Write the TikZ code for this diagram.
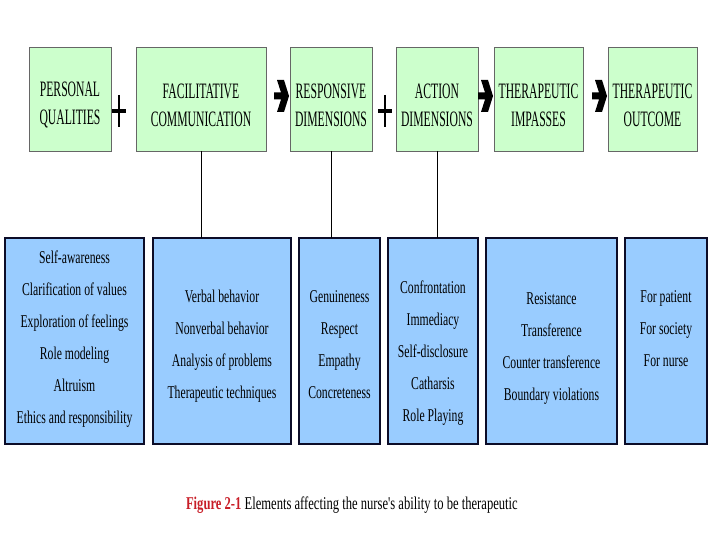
\documentclass[tikz,border=0pt]{standalone}
\usepackage{fontspec}
\setmainfont{Liberation Serif}
\newfontfamily\headfont[FakeStretch=0.53]{Liberation Serif}
\newfontfamily\itemfont[FakeStretch=0.65]{Liberation Serif}
\newfontfamily\captfont[FakeStretch=0.7]{Liberation Serif}
\usetikzlibrary{
  arrows.meta,
  positioning,
  calc
}
\usepackage{xcolor}
\definecolor{qualgreen}{RGB}{204,255,204}
\definecolor{listblue}{RGB}{153,204,255}
\definecolor{boxedge}{RGB}{12,12,40}
\definecolor{figred}{RGB}{200,30,40}

\begin{document}
\begin{tikzpicture}[
  x=1pt, y=-1pt,
  every node/.style={inner sep=0, outer sep=0},
  headbox/.style={draw=black!60, line width=0.8pt, fill=qualgreen,
                  minimum height=104pt},
  listbox/.style={draw=boxedge, line width=2pt, fill=listblue,
                  minimum height=206pt},
  headtxt/.style={font=\headfont\fontsize{22}{28}\selectfont, align=center},
  listtxt/.style={font=\itemfont\fontsize{18}{32}\selectfont, align=center},
  link/.style={draw=black, line width=0.8pt},
  >=Stealth
]

\useasboundingbox (0,0) rectangle (720,540);

% Heading row
\node[headbox, minimum width=82pt] (pers) at (70, 99) {};
\node[headtxt] (pers-txt) at (70, 105) {PERSONAL\\QUALITIES};
\node[headbox, minimum width=130pt] (facil) at (201, 99) {};
\node[headtxt] (facil-txt) at (201, 105) {FACILITATIVE\\COMMUNICATION};
\node[headbox, minimum width=82pt] (resp) at (331, 99) {};
\node[headtxt] (resp-txt) at (331, 105) {RESPONSIVE\\DIMENSIONS};
\node[headbox, minimum width=82pt] (act) at (437, 99) {};
\node[headtxt] (act-txt) at (437, 105) {ACTION\\DIMENSIONS};
\node[headbox, minimum width=89pt] (imp) at (538.5, 99) {};
\node[headtxt] (imp-txt) at (538.5, 105) {THERAPEUTIC\\IMPASSES};
\node[headbox, minimum width=89pt] (outc) at (652.5, 99) {};
\node[headtxt] (outc-txt) at (652.5, 105) {THERAPEUTIC\\OUTCOME};

% Lists
\node[listbox, minimum width=139pt] (pers-list) at (74.5, 341) {};
\node[listtxt] (pers-list-txt) at (74.5, 339) {Self-awareness\\Clarification of values\\Exploration of feelings\\Role modeling\\Altruism\\Ethics and responsibility};
\node[listbox, minimum width=138pt] (facil-list) at (222, 341) {};
\node[listtxt] (facil-list-txt) at (222, 346) {Verbal behavior\\Nonverbal behavior\\Analysis of problems\\Therapeutic techniques};
\node[listbox, minimum width=81pt] (resp-list) at (339.5, 341) {};
\node[listtxt] (resp-list-txt) at (339.5, 345) {Genuineness\\Respect\\Empathy\\Concreteness};
\node[listbox, minimum width=90pt] (act-list) at (433, 341) {};
\node[listtxt] (act-list-txt) at (433, 353) {Confrontation\\Immediacy\\Self-disclosure\\Catharsis\\Role Playing};
\node[listbox, minimum width=131pt] (imp-list) at (551.5, 341) {};
\node[listtxt] (imp-list-txt) at (551.5, 348) {Resistance\\Transference\\Counter transference\\Boundary violations};
\node[listbox, minimum width=82pt] (outc-list) at (666, 341) {};
\node[listtxt] (outc-list-txt) at (666, 329) {For patient\\For society\\For nurse};

% Links down to the lists
\draw[link] (facil.south) -- (facil.south |- facil-list.north);
\draw[link] (resp.south) -- (resp.south |- resp-list.north);
\draw[link] (act.south) -- (act.south |- act-list.north);

% Plus signs
\draw[line width=1.2pt] (119, 95) -- (119, 127);
\draw[line width=4pt] (112, 111) -- (126, 111);
\draw[line width=1.2pt] (385, 95) -- (385, 127);
\draw[line width=4pt] (378, 111) -- (392, 111);

% Arrows
\foreach \px in {289, 493, 607}
  \fill[shift={(\px,96)}] (0,0) -- (-5,-16) -- (-12,-16) -- (-8,-3.5)
    -- (-15,-3.5) -- (-15,3.5) -- (-8,3.5) -- (-12,16) -- (-5,16) -- cycle;

% Caption
\node[anchor=west, font=\captfont\fontsize{18}{20}\selectfont] (caption)
  at (186, 505) {{\color{figred}\bfseries Figure 2-1} Elements affecting the nurse's ability to be therapeutic};

\end{tikzpicture}
\end{document}
